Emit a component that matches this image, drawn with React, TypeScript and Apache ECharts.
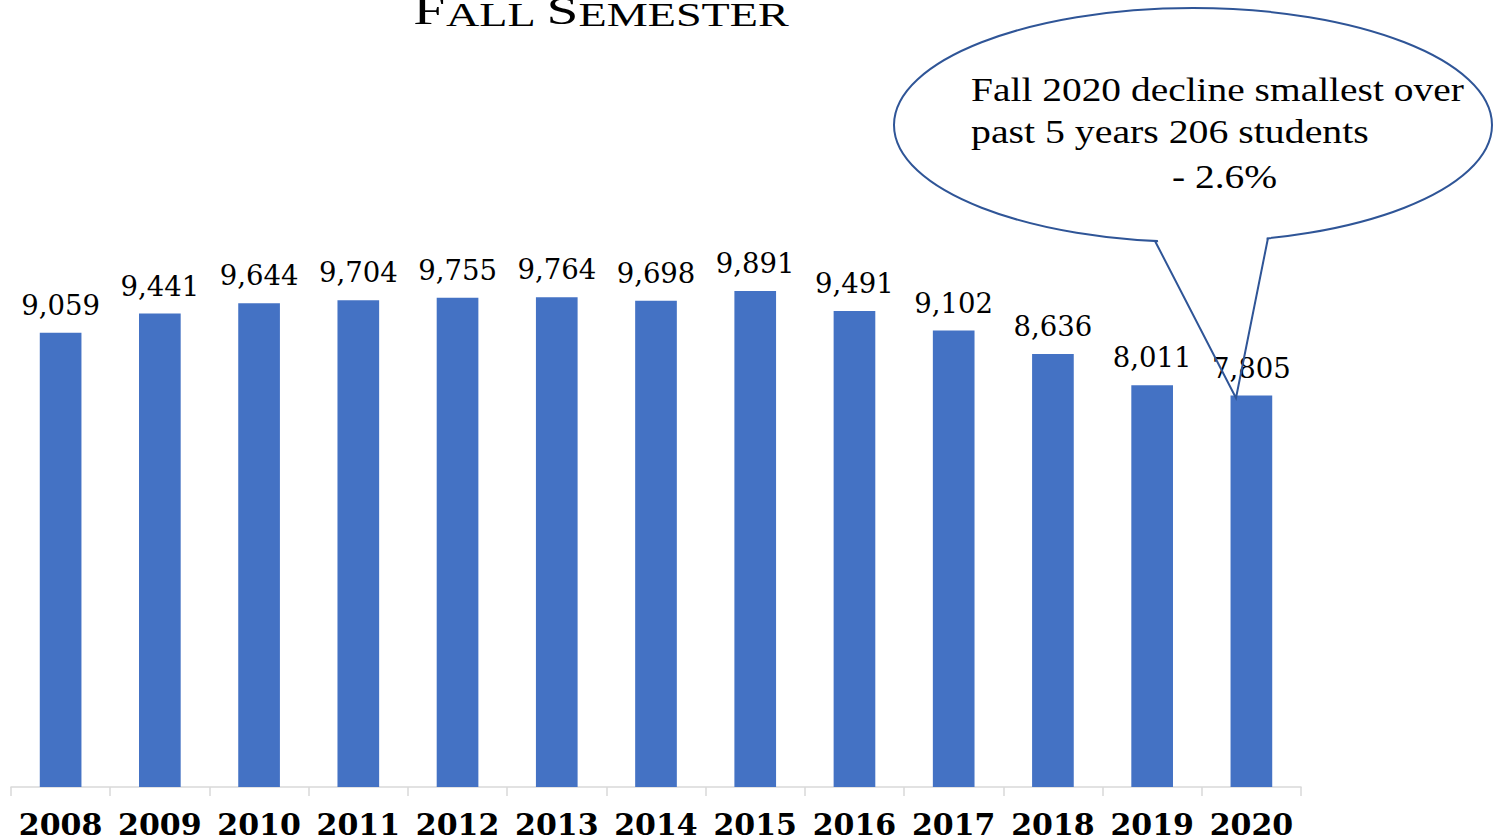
import React, { useEffect, useRef } from "react";
import * as echarts from "echarts";

const years = ["2008", "2009", "2010", "2011", "2012", "2013", "2014", "2015", "2016", "2017", "2018", "2019", "2020"];
const enrollment = [9059, 9441, 9644, 9704, 9755, 9764, 9698, 9891, 9491, 9102, 8636, 8011, 7805];
const calloutLines = ["Fall 2020 decline smallest over", "past 5 years 206 students", "- 2.6%"];

export default function App() {
  const ref = useRef<HTMLDivElement>(null);
  useEffect(() => {
    if (!ref.current) return;
    const chart = echarts.init(ref.current, null, { renderer: "svg" });
    chart.setOption({
      animation: false,
      grid: { left: 11, right: 198, top: 285.5, bottom: 53 },
      xAxis: {
        type: "category",
        data: years,
        axisLine: { lineStyle: { color: "#D9D9D9", width: 1.5 } },
        axisTick: { show: true, length: 9, lineStyle: { color: "#D9D9D9", width: 1.5 } },
        axisLabel: {
          interval: 0,
          color: "#000",
          fontFamily: "DejaVu Serif",
          fontWeight: "bold",
          fontSize: 30,
          margin: 22,
        },
      },
      yAxis: { type: "value", min: 0, max: 10000, show: false, splitLine: { show: false } },
      series: [
        {
          type: "bar",
          data: enrollment,
          barWidth: "42%",
          itemStyle: { color: "#4472C4" },
          label: {
            show: true,
            position: "top",
            distance: 14,
            color: "#000",
            fontFamily: "DejaVu Serif",
            fontSize: 27.5,
            formatter: (p: any) => Number(p.value).toLocaleString("en-US"),
          },
        },
      ],
      graphic: [
        {
          type: "text",
          x: 601,
          y: 31,
          scaleX: 1.4,
          style: {
            text: "{b|F}{s|ALL }{b|S}{s|EMESTER}",
            align: "center",
            verticalAlign: "bottom",
            fill: "#000",
            rich: {
              b: { fontSize: 41, fontFamily: "Liberation Serif", verticalAlign: "bottom", fill: "#000" },
              s: { fontSize: 33, fontFamily: "Liberation Serif", verticalAlign: "bottom", fill: "#000" },
            },
          },
          z: 10,
        },
        {
          type: "ellipse",
          shape: { cx: 1193, cy: 125, rx: 299, ry: 117 },
          style: { fill: "#fff", stroke: "#2F5597", lineWidth: 2 },
          z: 20,
        },
        {
          type: "polygon",
          shape: { points: [[1156.5, 232], [1267, 232], [1266, 247], [1159, 247]] },
          style: { fill: "#fff" },
          z: 21,
        },
        {
          type: "polyline",
          shape: { points: [[1155, 241], [1236, 398], [1268, 238]] },
          style: { stroke: "#2F5597", lineWidth: 2, fill: null },
          z: 22,
        },
        {
          type: "text",
          x: 971,
          y: 89,
          scaleX: 1.16,
          style: { text: calloutLines[0], font: "34px 'Liberation Serif'", fill: "#000", verticalAlign: "middle", align: "left" },
          z: 23,
        },
        {
          type: "text",
          x: 971,
          y: 132,
          scaleX: 1.17,
          style: { text: calloutLines[1], font: "34px 'Liberation Serif'", fill: "#000", verticalAlign: "middle", align: "left" },
          z: 23,
        },
        {
          type: "text",
          x: 1172,
          y: 176,
          scaleX: 1.16,
          style: { text: calloutLines[2], font: "34px 'Liberation Serif'", fill: "#000", verticalAlign: "middle", align: "left" },
          z: 23,
        },
      ],
    });
    return () => chart.dispose();
  }, []);
  return <div ref={ref} style={{ width: 1499, height: 840, position: "absolute", left: 0, top: 0 }} />;
}
